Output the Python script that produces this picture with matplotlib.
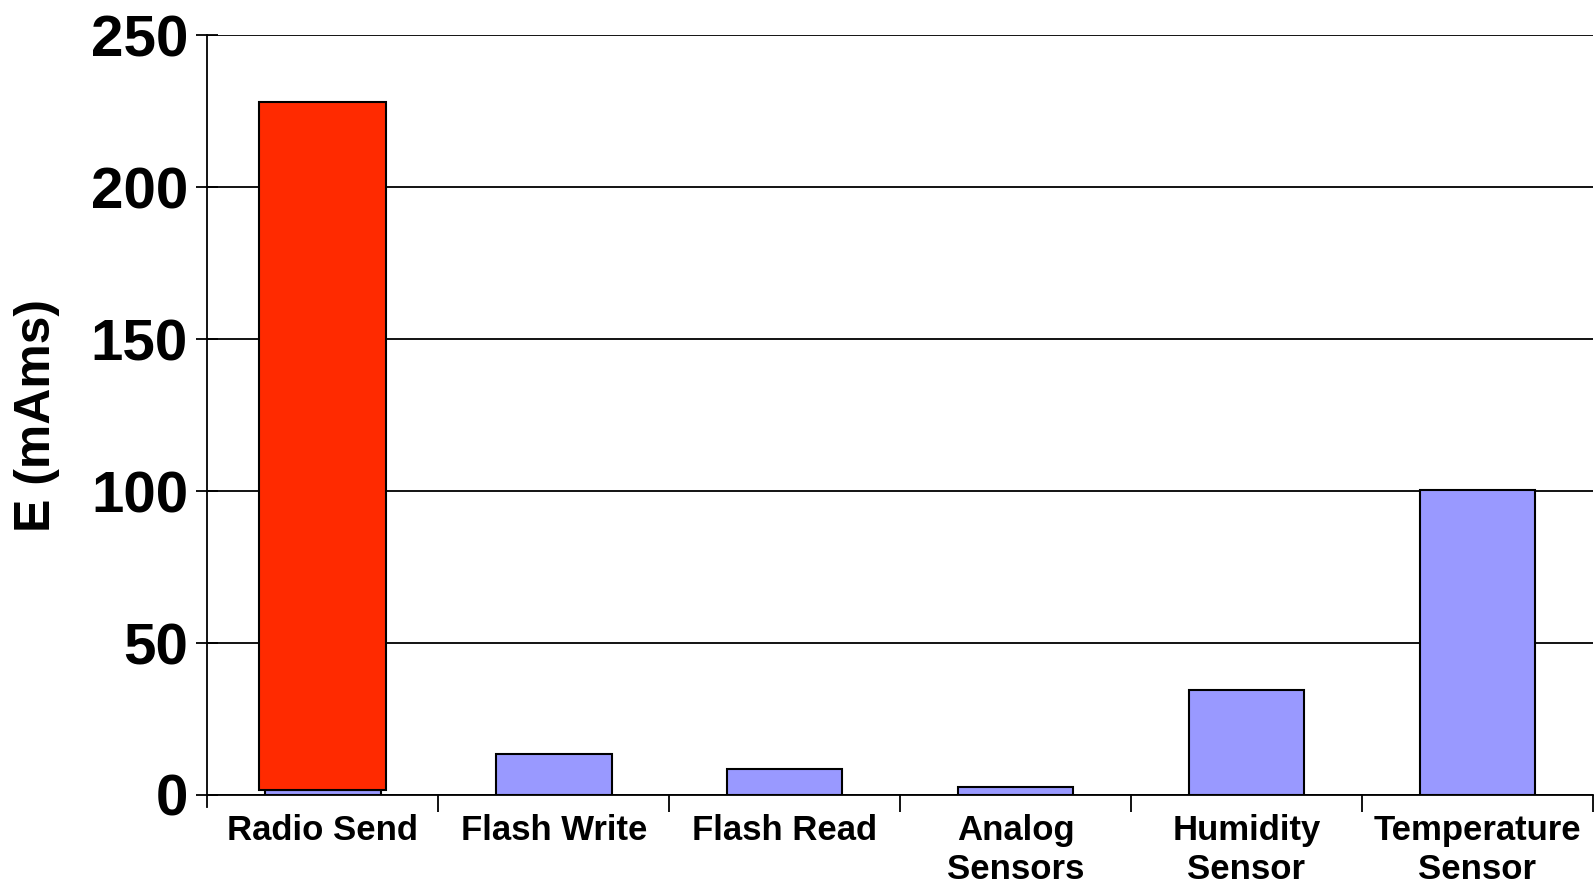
import matplotlib
matplotlib.use("Agg")
import matplotlib.pyplot as plt
import numpy as np

plt.rcParams['font.family'] = ['Liberation Sans', 'DejaVu Sans']
plt.rcParams['font.weight'] = 'bold'

categories = ["Radio Send", "Flash Write", "Flash Read", "Analog\nSensors",
              "Humidity\nSensor", "Temperature\nSensor"]
energy = [1.6, 13.5, 8.5, 2.7, 34.5, 100.5]
radio_send_total = 228.0
y_ticks = [0, 50, 100, 150, 200, 250]

fig = plt.figure(figsize=(15.96, 8.85), dpi=100)
ax = fig.add_axes([0.130, 0.1017, 0.868, 0.8583])

x = np.arange(len(categories))
ax.bar(x, energy, width=0.5, color="#9999FF", edgecolor="black", linewidth=1.5, zorder=3)
# highlighted segment stacked on top of the radio base bar
ax.bar(x[0], radio_send_total - energy[0], bottom=energy[0], width=0.55,
       color="#FF2A00", edgecolor="black", linewidth=1.5, zorder=4)

ax.set_xlim(-0.5, len(categories) - 0.5)
ax.set_ylim(0, 250)
ax.set_yticks(y_ticks)
ax.set_yticklabels([str(v) for v in y_ticks], fontsize=42, fontweight='bold')
ax.yaxis.grid(True, color="black", linewidth=1.3, zorder=0)
ax.tick_params(axis='y', direction='inout', length=16, width=1.3, pad=6)

ax.set_xticks(x)
ax.set_xticklabels(categories, fontsize=25, fontweight='bold', linespacing=1.2)
ax.tick_params(axis='x', length=0, pad=14)
ax.set_xticks(np.arange(len(categories)) + 0.5, minor=True)
ax.tick_params(axis='x', which='minor', direction='out', length=12, width=1.3)

for side in ["top", "right"]:
    ax.spines[side].set_visible(False)
ax.spines["left"].set_linewidth(1.3)
ax.spines["bottom"].set_linewidth(1.3)
ax.spines["left"].set_bounds(-4, 250)
ax.spines["left"].set_clip_on(False)

ax.set_ylabel("E (mAms)", fontsize=36, fontweight='bold', labelpad=22)

fig.savefig("out.png", dpi=100)
